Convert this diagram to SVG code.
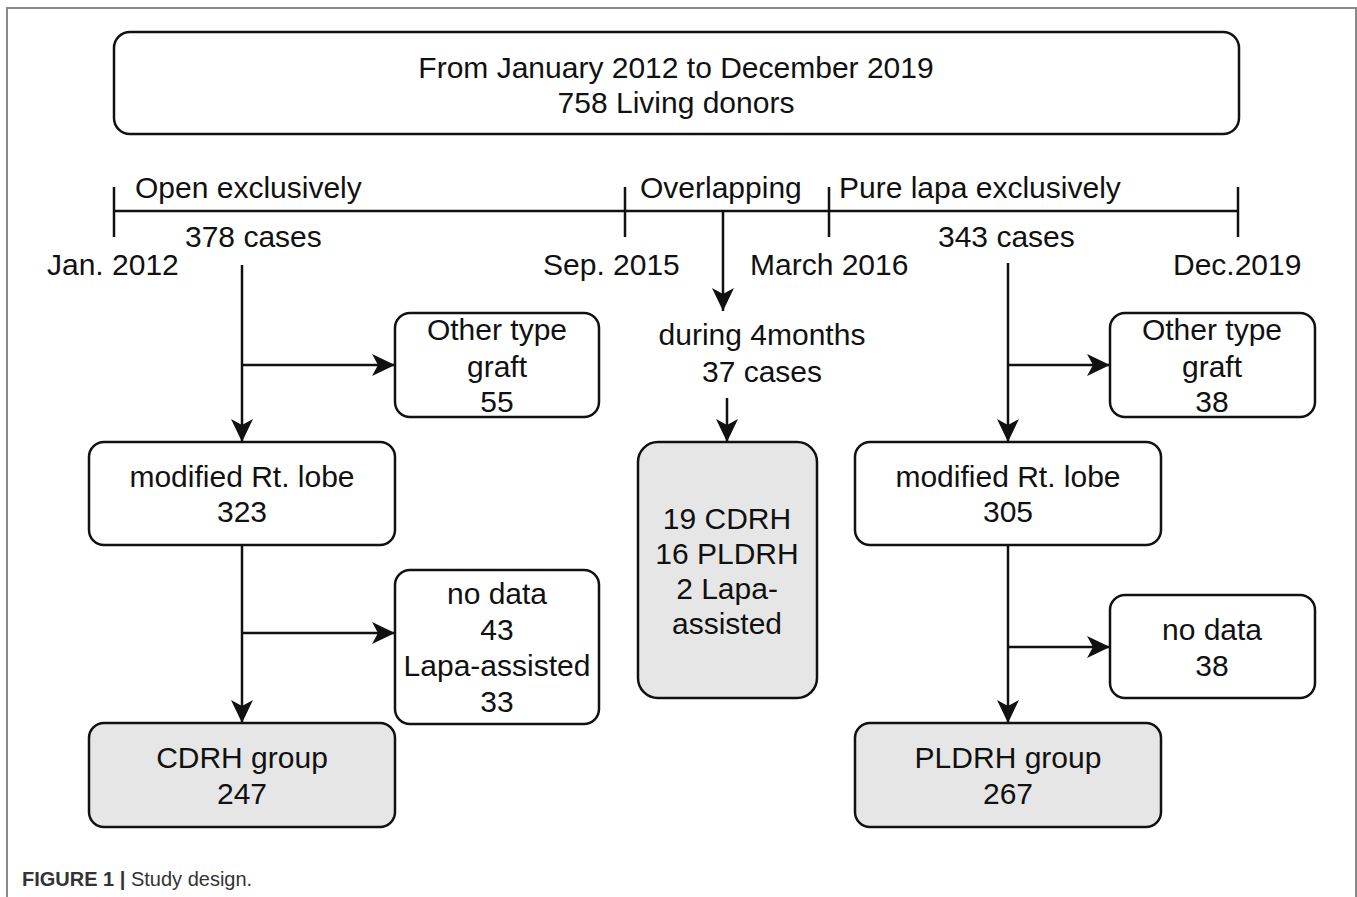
<svg xmlns="http://www.w3.org/2000/svg" width="1357" height="897" viewBox="0 0 1357 897">
  <style>
    .box { fill: #ffffff; stroke: #111; stroke-width: 2.5; }
    .grey { fill: #e6e6e6; }
    .t { font-family: "Liberation Sans", Arial, sans-serif; font-size: 30px; fill: #111; }
    .c { text-anchor: middle; }
    .ln { stroke: #111; stroke-width: 2.5; fill: none; }
    .frame { stroke: #888; stroke-width: 2; fill: none; }
    .cap { font-family: "Liberation Sans", Arial, sans-serif; font-size: 20px; fill: #333; }
  </style>
  <defs>
    <marker id="arrow" markerUnits="userSpaceOnUse" markerWidth="24" markerHeight="22" refX="23" refY="11" orient="auto">
      <path d="M0,0 L23,11 L0,22 L6,11 Z" fill="#111"/>
    </marker>
  </defs>

  <rect width="1357" height="897" fill="#ffffff"/>
  <!-- figure frame -->
  <path class="frame" d="M7,897 V8 H1356 V897"/>

  <!-- header -->
  <g id="header">
    <rect class="box" x="114" y="32" width="1125" height="102" rx="16"/>
    <text class="t c" x="676" y="78">From January 2012 to December 2019</text>
    <text class="t c" x="676" y="113">758 Living donors</text>
  </g>

  <!-- timeline -->
  <g id="timeline">
    <path class="ln" d="M114,211 H1238 M114,187 V237 M625,187 V237 M829,187 V237 M1238,187 V237"/>
    <text class="t" x="135" y="198">Open exclusively</text>
    <text class="t" x="640" y="198">Overlapping</text>
    <text class="t" x="839" y="198">Pure lapa exclusively</text>
    <text class="t" x="185" y="247">378 cases</text>
    <text class="t" x="938" y="247">343 cases</text>
    <text class="t" x="47" y="275">Jan. 2012</text>
    <text class="t" x="543" y="275">Sep. 2015</text>
    <text class="t" x="750" y="275">March 2016</text>
    <text class="t" x="1173" y="275">Dec.2019</text>
  </g>

  <!-- connectors -->
  <g id="connectors">
    <!-- open branch -->
    <path class="ln" d="M242,265 V442" marker-end="url(#arrow)"/>
    <path class="ln" d="M242,365 H395" marker-end="url(#arrow)"/>
    <path class="ln" d="M242,545 V723" marker-end="url(#arrow)"/>
    <path class="ln" d="M242,633 H395" marker-end="url(#arrow)"/>
    <!-- overlapping branch -->
    <path class="ln" d="M723,211 V311" marker-end="url(#arrow)"/>
    <path class="ln" d="M727,398 V442" marker-end="url(#arrow)"/>
    <!-- pure lapa branch -->
    <path class="ln" d="M1008,263 V442" marker-end="url(#arrow)"/>
    <path class="ln" d="M1008,365 H1110" marker-end="url(#arrow)"/>
    <path class="ln" d="M1008,545 V723" marker-end="url(#arrow)"/>
    <path class="ln" d="M1008,647 H1110" marker-end="url(#arrow)"/>
  </g>

  <!-- open surgery column -->
  <g id="other-open">
    <rect class="box" x="395" y="313" width="204" height="104" rx="15"/>
    <text class="t c" x="497" y="340">Other type</text>
    <text class="t c" x="497" y="377">graft</text>
    <text class="t c" x="497" y="412">55</text>
  </g>
  <g id="rt-lobe-open">
    <rect class="box" x="89" y="442" width="306" height="103" rx="15"/>
    <text class="t c" x="242" y="487">modified Rt. lobe</text>
    <text class="t c" x="242" y="522">323</text>
  </g>
  <g id="nodata-open">
    <rect class="box" x="395" y="570" width="204" height="154" rx="15"/>
    <text class="t c" x="497" y="604">no data</text>
    <text class="t c" x="497" y="640">43</text>
    <text class="t c" x="497" y="676">Lapa-assisted</text>
    <text class="t c" x="497" y="712">33</text>
  </g>
  <g id="cdrh-group">
    <rect class="box grey" x="89" y="723" width="306" height="104" rx="15"/>
    <text class="t c" x="242" y="768">CDRH group</text>
    <text class="t c" x="242" y="804">247</text>
  </g>

  <!-- overlapping period -->
  <g id="overlap-label">
    <text class="t c" x="762" y="345">during 4months</text>
    <text class="t c" x="762" y="382">37 cases</text>
  </g>
  <g id="overlap-box">
    <rect class="box grey" x="638" y="442" width="179" height="256" rx="20"/>
    <text class="t c" x="727" y="529">19 CDRH</text>
    <text class="t c" x="727" y="564">16 PLDRH</text>
    <text class="t c" x="727" y="599">2 Lapa-</text>
    <text class="t c" x="727" y="634">assisted</text>
  </g>

  <!-- pure laparoscopic column -->
  <g id="other-lapa">
    <rect class="box" x="1110" y="313" width="205" height="104" rx="15"/>
    <text class="t c" x="1212" y="340">Other type</text>
    <text class="t c" x="1212" y="377">graft</text>
    <text class="t c" x="1212" y="412">38</text>
  </g>
  <g id="rt-lobe-lapa">
    <rect class="box" x="855" y="442" width="306" height="103" rx="15"/>
    <text class="t c" x="1008" y="487">modified Rt. lobe</text>
    <text class="t c" x="1008" y="522">305</text>
  </g>
  <g id="nodata-lapa">
    <rect class="box" x="1110" y="595" width="205" height="103" rx="15"/>
    <text class="t c" x="1212" y="640">no data</text>
    <text class="t c" x="1212" y="676">38</text>
  </g>
  <g id="pldrh-group">
    <rect class="box grey" x="855" y="723" width="306" height="104" rx="15"/>
    <text class="t c" x="1008" y="768">PLDRH group</text>
    <text class="t c" x="1008" y="804">267</text>
  </g>

  <!-- caption -->
  <text class="cap" x="22" y="886"><tspan font-weight="bold">FIGURE 1 | </tspan>Study design.</text>
</svg>
